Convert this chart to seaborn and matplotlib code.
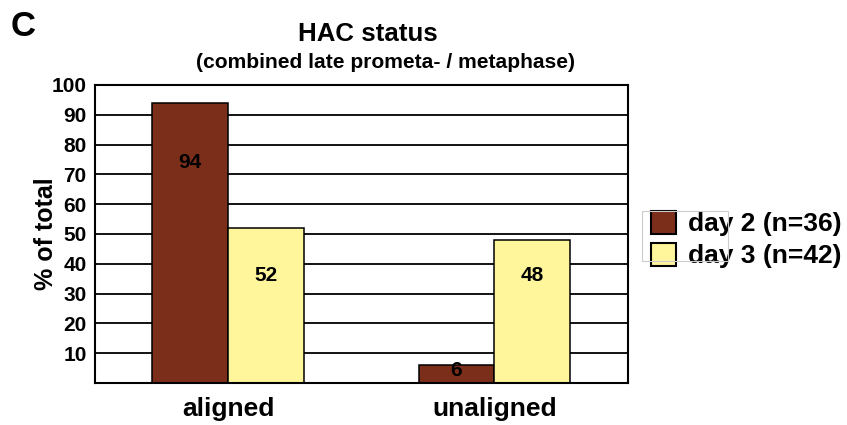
import matplotlib.pyplot as plt
import pandas as pd
import seaborn as sns
from matplotlib.patches import Rectangle

# --- data ---
statuses = ['aligned', 'unaligned']
days = ['day 2 (n=36)', 'day 3 (n=42)']
day2_pct = [94, 6]
day3_pct = [52, 48]
yticks = [10, 20, 30, 40, 50, 60, 70, 80, 90, 100]

brown = '#7B2E1A'
yellow = '#FFF59B'

df = pd.DataFrame({
    'status': statuses * 2,
    'pct': day2_pct + day3_pct,
    'day': [days[0]] * len(statuses) + [days[1]] * len(statuses),
})

sns.set_theme(style='white')
plt.rcParams['font.family'] = ['Liberation Sans', 'DejaVu Sans']
plt.rcParams['font.weight'] = 'bold'
for key in ['text.color', 'axes.labelcolor', 'xtick.color', 'ytick.color']:
    plt.rcParams[key] = 'black'

fig = plt.figure(figsize=(8.47, 4.25), dpi=100)
ax = fig.add_axes([0.112, 0.099, 0.629, 0.701])

sns.barplot(data=df, x='status', y='pct', hue='day', order=statuses,
            hue_order=days, palette=[brown, yellow], width=0.57,
            edgecolor='black', linewidth=1.1, saturation=1, ax=ax)

ax.set_xlim(-0.5, 1.5)
ax.set_ylim(0, 100)
ax.set_yticks(yticks)
ax.set_yticklabels([str(t) for t in yticks], fontsize=15, fontweight='bold')
ax.tick_params(axis='y', length=0, pad=6)
ax.tick_params(axis='x', length=0, pad=10, labelsize=19)
for lab in ax.get_xticklabels():
    lab.set_fontweight('bold')
ax.yaxis.grid(True, color='black', linewidth=1.3)
ax.set_axisbelow(True)
for sp in ax.spines.values():
    sp.set_color('black')
    sp.set_linewidth(1.5)
    sp.set_visible(True)

ax.set_xlabel('')
ax.set_ylabel('% of total', fontsize=18, fontweight='bold', labelpad=-5)

# value labels inside bars
label_y = [[74, 4.2], [36, 36]]
for ci, cont in enumerate(ax.containers):
    for bi, bar in enumerate(cont):
        x = bar.get_x() + bar.get_width() / 2
        ax.text(x, label_y[ci][bi], f'{int(bar.get_height())}', ha='center',
                va='center', fontsize=15, fontweight='bold', color='black')

# legend
handles, labels = ax.get_legend_handles_labels()
ax.legend(handles, labels, loc='upper left',
          bbox_to_anchor=(651 / 847, 1 - 211 / 425),
          bbox_transform=fig.transFigure, frameon=False, fontsize=19,
          handlelength=0.95, handleheight=0.95, handletextpad=0.45,
          labelspacing=0.25, borderaxespad=0, borderpad=0)
leg = ax.get_legend()
for t in leg.get_texts():
    t.set_fontweight('bold')
    t.set_color('black')
for h in leg.legend_handles:
    h.set_edgecolor('black')
    h.set_linewidth(1.5)
fig.patches.append(Rectangle((642 / 847, 1 - 261 / 425), 86 / 847, 50 / 425,
                             transform=fig.transFigure, fill=False,
                             edgecolor='#cccccc', linewidth=0.8))

# titles
fig.text(368 / 847, 1 - 34 / 425, 'HAC status', ha='center', va='center',
         fontsize=18.6, fontweight='bold')
fig.text(385 / 847, 1 - 63 / 425, '(combined late prometa- / metaphase)',
         ha='center', va='center', fontsize=15.1, fontweight='bold')
fig.text(11 / 847, 1 - 27 / 425, 'C', ha='left', va='center',
         fontsize=25, fontweight='bold')

fig.savefig('out.png', dpi=100)
